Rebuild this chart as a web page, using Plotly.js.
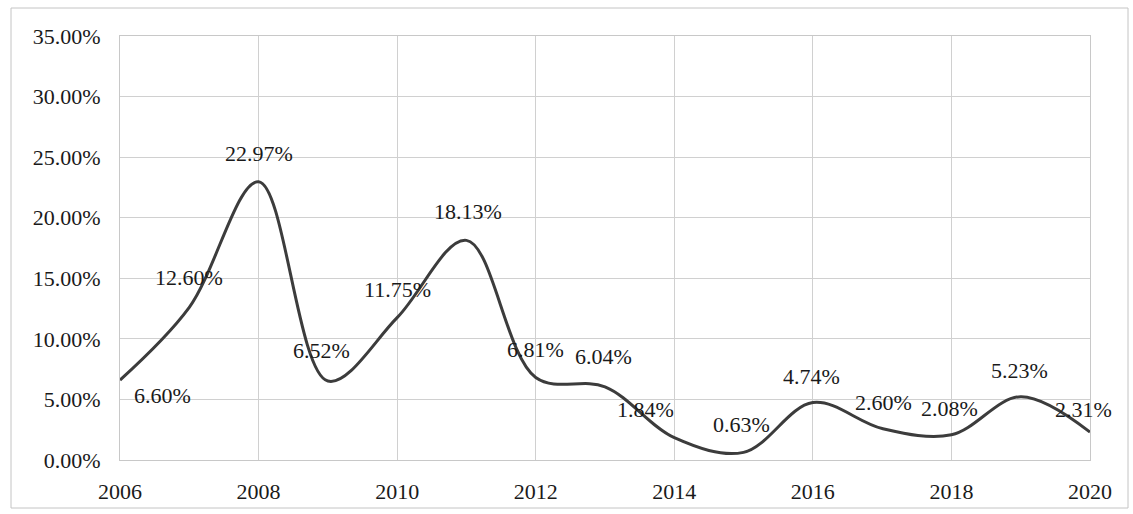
<!DOCTYPE html>
<html>
<head>
<meta charset="utf-8">
<script src="https://cdn.plot.ly/plotly-3.0.1.min.js"></script>
<style>
  html, body { margin: 0; padding: 0; background: #ffffff; }
  #chart { width: 1133px; height: 514px; }
</style>
</head>
<body>
<div id="chart"></div>
<script>
// ---- data ----
var years = [2006, 2007, 2008, 2009, 2010, 2011, 2012, 2013, 2014, 2015, 2016, 2017, 2018, 2019, 2020];
var rates = [6.60, 12.60, 22.97, 6.52, 11.75, 18.13, 6.81, 6.04, 1.84, 0.63, 4.74, 2.60, 2.08, 5.23, 2.31];
var yTicks = [0, 5, 10, 15, 20, 25, 30, 35];
var xTicks = [2006, 2008, 2010, 2012, 2014, 2016, 2018, 2020];

// label offsets (style only, pixels)
var labelDx = [42, 0, 0, -6, 0, 2, 0, -2, -29, -2, -1, 1, -2, -1, -7];
var labelDy = [-15, 30, 28, 31, 28, 29, 28, 30, 28, 28, 26, 26, 26, 26, 23];

var fontFam = '"Liberation Serif", "Times New Roman", serif';

var trace = {
  x: years,
  y: rates,
  type: 'scatter',
  mode: 'lines',
  line: { color: '#3c3c3c', width: 3, shape: 'spline', smoothing: 1 },
  hoverinfo: 'skip'
};

var annotations = years.map(function (yr, i) {
  return {
    x: yr, y: rates[i], xref: 'x', yref: 'y',
    text: rates[i].toFixed(2) + '%',
    showarrow: false,
    xshift: labelDx[i], yshift: labelDy[i],
    font: { family: fontFam, size: 22, color: '#1a1a1a' }
  };
});

var pw = 970, ph = 424;
var layout = {
  width: 1133, height: 514,
  margin: { l: 120, r: 43, t: 36, b: 54, pad: 0 },
  paper_bgcolor: '#ffffff',
  plot_bgcolor: '#ffffff',
  showlegend: false,
  font: { family: fontFam, size: 22, color: '#1a1a1a' },
  xaxis: {
    range: [2006, 2020],
    tickvals: xTicks,
    ticktext: xTicks.map(String),
    showgrid: true, gridcolor: '#d0d0d0', gridwidth: 1,
    zeroline: false,
    showline: true, linecolor: '#c8c8c8', linewidth: 1, mirror: true,
    ticks: '', ticklabelstandoff: 12,
    tickfont: { family: fontFam, size: 22, color: '#1a1a1a' },
    fixedrange: true
  },
  yaxis: {
    range: [0, 35],
    tickvals: yTicks,
    ticktext: yTicks.map(function (v) { return v.toFixed(2) + '%'; }),
    showgrid: true, gridcolor: '#d0d0d0', gridwidth: 1,
    zeroline: false,
    showline: true, linecolor: '#c8c8c8', linewidth: 1, mirror: true,
    ticks: '', ticklabelstandoff: 14,
    tickfont: { family: fontFam, size: 22, color: '#1a1a1a' },
    fixedrange: true
  },
  annotations: annotations,
  shapes: [{
    type: 'rect', xref: 'paper', yref: 'paper',
    x0: (11 - 120) / pw, x1: (1128 - 120) / pw,
    y0: (460 - 508) / ph, y1: (460 - 8) / ph,
    line: { color: '#c4c4c4', width: 1 },
    fillcolor: 'rgba(0,0,0,0)', layer: 'below'
  }]
};

Plotly.newPlot('chart', [trace], layout, { displayModeBar: false, staticPlot: true });
</script>
</body>
</html>
